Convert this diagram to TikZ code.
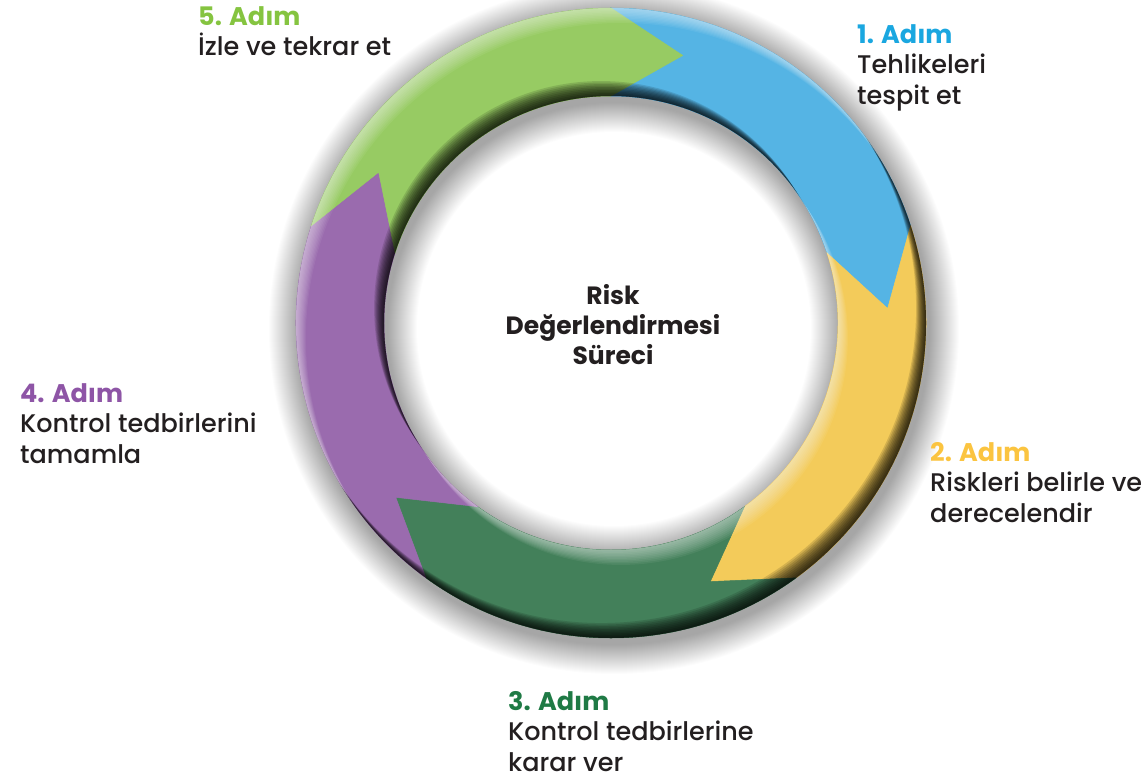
\documentclass[tikz,border=0pt]{standalone}
\usepackage{fontspec}
\setmainfont{Poppins}[UprightFont={Poppins Medium}, BoldFont={Poppins Bold}]
\usetikzlibrary{calc}

% ring segment fills
\definecolor{segBlue}{HTML}{55B4E4}
\definecolor{segYellow}{HTML}{F3CB5A}
\definecolor{segGreen}{HTML}{43805A}
\definecolor{segPurple}{HTML}{9A6BAE}
\definecolor{segLime}{HTML}{97CB63}
% heading colours
\definecolor{txtBlue}{HTML}{1AA7E0}
\definecolor{txtYellow}{HTML}{FBC440}
\definecolor{txtGreen}{HTML}{1F7A45}
\definecolor{txtPurple}{HTML}{8E55A6}
\definecolor{txtLime}{HTML}{85C440}
\definecolor{ink}{HTML}{231F20}

% ring geometry (pt)
\def\Ro{315}   % outer radius
\def\Ri{227}   % inner radius
\def\Rt{277}   % radius of arrow tips
\def\headang{15} % angular length of each arrow head

% one arrow-shaped ring segment: #1 = start angle, #2 = colour
\newcommand\ringseg[2]{%
  \pgfmathsetmacro\segend{#1-72}%
  \pgfmathsetmacro\tipend{#1-72-\headang}%
  \pgfmathsetmacro\tipstart{#1-\headang}%
  \fill[#2, draw=#2, line width=0.5pt]
    ($(C)+(#1:\Ro pt)$) arc[start angle=#1, end angle=\segend, radius=\Ro pt]
    -- ($(C)+(\tipend:\Rt pt)$)
    -- ($(C)+(\segend:\Ri pt)$) arc[start angle=\segend, end angle=#1, radius=\Ri pt]
    -- ($(C)+(\tipstart:\Rt pt)$) -- cycle;}

\tikzset{
  lbl/.style={anchor=north west, inner sep=0pt, align=left, text=ink,
              font=\fontsize{25.5}{30.5}\selectfont},
  centre/.style={anchor=north, inner sep=0pt, align=center, text=ink,
              font=\bfseries\fontsize{25}{30}\selectfont},
}

\begin{document}
\begin{tikzpicture}[x=1pt, y=1pt]
  \useasboundingbox (0,0) rectangle (1145,-778);
  \fill[white] (0,0) rectangle (1145,-778);
  \coordinate (C) at (611,-323);

  % soft drop shadow around and inside the ring
  \foreach \k in {1,...,30}{
    \fill[black, opacity=0.012, even odd rule]
      ($(C)+(3,-6)$) circle[radius={\Ro pt+1pt*\k}]
      ($(C)+(3,-6)$) circle[radius={\Ri pt-1pt*\k}];
  }

  % the five arrow segments, clockwise from the top
  \ringseg{90}{segBlue}
  \ringseg{18}{segYellow}
  \ringseg{-54}{segGreen}
  \ringseg{-126}{segPurple}
  \ringseg{162}{segLime}

  % bevel: light from the upper left
  \begin{scope}
    \clip ($(C)+(\Ro pt,0)$) arc[start angle=0, end angle=360, radius=\Ro pt]
      -- ($(C)+(\Ri pt,0)$) arc[start angle=360, end angle=0, radius=\Ri pt] -- cycle;
    \foreach \k in {1,...,10}{
      \pgfmathsetmacro\s{1.8*\k}
      \fill[black, opacity=0.13, even odd rule]
        (C) circle[radius=400pt]
        ($(C)+(-0.55*\s,0.83*\s)$) circle[radius=\Ro pt];
      \fill[black, opacity=0.13]
        ($(C)+(-0.55*\s,0.83*\s)$) circle[radius=\Ri pt];
      \fill[white, opacity=0.06, even odd rule]
        (C) circle[radius=400pt]
        ($(C)+(0.55*\s,-0.83*\s)$) circle[radius=\Ro pt];
      \fill[white, opacity=0.06]
        ($(C)+(0.55*\s,-0.83*\s)$) circle[radius=\Ri pt];
    }
  \end{scope}

  % centre title
  \node[centre] (title) at (613,-284) {Risk\\Değerlendirmesi\\Süreci};

  % step labels
  \node[lbl] (step1) at (857,-24)
    {\textcolor{txtBlue}{\bfseries 1. Adım}\\Tehlikeleri\\tespit et};
  \node[lbl] (step2) at (930,-442)
    {\textcolor{txtYellow}{\bfseries 2. Adım}\\Riskleri belirle ve\\derecelendir};
  \node[lbl] (step3) at (508,-691)
    {\textcolor{txtGreen}{\bfseries 3. Adım}\\Kontrol tedbirlerine\\karar ver};
  \node[lbl] (step4) at (20,-383)
    {\textcolor{txtPurple}{\bfseries 4. Adım}\\Kontrol tedbirlerini\\tamamla};
  \node[lbl] (step5) at (198,-6)
    {\textcolor{txtLime}{\bfseries 5. Adım}\\İzle ve tekrar et};
\end{tikzpicture}
\end{document}
